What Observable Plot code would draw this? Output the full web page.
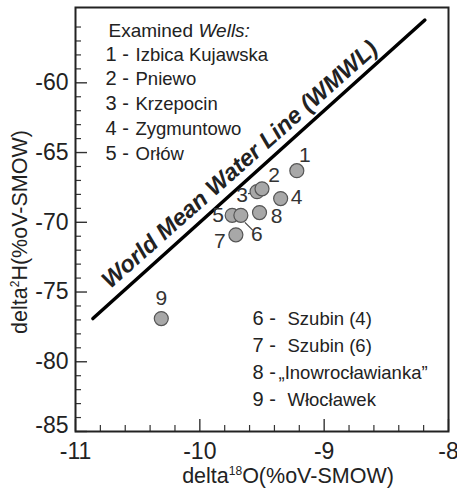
<!DOCTYPE html>
<html><head><meta charset="utf-8">
<script src="https://cdn.jsdelivr.net/npm/d3@7"></script>
<script src="https://cdn.jsdelivr.net/npm/@observablehq/plot@0.6"></script>
<style>body{margin:0;background:#fff;}</style>
</head><body><div id="chart"></div>
<script>
// ---- data ----
const wellIds = [1, 2, 3, 4, 5, 6, 7, 8, 9];
const wellNames = ["Izbica Kujawska", "Pniewo", "Krzepocin", "Zygmuntowo", "Orłów",
                   "Szubin (4)", "Szubin (6)", "„Inowrocławianka”", "Włocławek"];
const delta18O = [-9.22, -9.50, -9.54, -9.35, -9.74, -9.67, -9.71, -9.52, -10.31];
const delta2H  = [-66.3, -67.6, -67.8, -68.3, -69.5, -69.5, -70.9, -69.3, -76.9];
const wmwlO = [-10.86, -8.19];
const wmwlH = [-76.9, -55.5];
const wmwlLabel = "World Mean Water Line (WMWL)";
const xTicks = [-11, -10, -9, -8];
const yTicks = [-85, -80, -75, -70, -65, -60];
const legendHeader = ["Examined", "Wells:"];

// ---- layout ----
const W = 457, H = 490, mL = 75, mR = 9, mT = 7, mB = 59;
const fw = W - mL - mR, fh = H - mT - mB;
const xDom = [-11, -8], yDom = [-85, -54.6];
const kx = fw / (xDom[1] - xDom[0]), ky = fh / (yDom[1] - yDom[0]);
const ink = "#222";
const drawOrder = [0, 2, 1, 3, 4, 5, 6, 7, 8];
const points = drawOrder.map(i => ({id: wellIds[i], x: delta18O[i], y: delta2H[i]}));
const labelOffset = {1: [8, -15], 2: [12, -14], 3: [-15, 4], 4: [16, -1], 5: [-14, 0],
                     6: [16, 19], 7: [-16, 6], 8: [17, 4], 9: [0, -20]};
const leaders = {3: [[-9, 2], [-4, 1.5]], 6: [[4, 7], [12, 15]]};
const wmwlPos = {x: -9.68, y: -65.85, rotate: -41.6};
const fmt = d => String(d);

const xMinor = d3.range(-11, -8.0001, 0.2).map(v => +v.toFixed(1));
const yMinor = d3.range(-85, -54.9, 1);
const isMajorX = v => Math.abs(v - Math.round(v)) < 1e-6;
const isMajorY = v => v % 5 === 0;

const wmwl = wmwlO.map((o, i) => ({x: o, y: wmwlH[i]}));

const marks = [];
// ticks (inward)
marks.push(Plot.tickX(xMinor.filter(v => !isMajorX(v)), {x: d => d, insetTop: fh - 6, stroke: "#333", strokeWidth: 1.2}));
marks.push(Plot.tickX(xTicks, {x: d => d, insetTop: fh - 12, stroke: "#333", strokeWidth: 1.4}));
marks.push(Plot.tickY(yMinor.filter(v => !isMajorY(v)), {y: d => d, insetRight: fw - 6, stroke: "#333", strokeWidth: 1.2}));
marks.push(Plot.tickY(yTicks, {y: d => d, insetRight: fw - 12, stroke: "#333", strokeWidth: 1.4}));
marks.push(Plot.axisX(xTicks, {tickSize: 0, tickPadding: 11, fontSize: 23, fill: ink, label: null, tickFormat: fmt}));
marks.push(Plot.axisY(yTicks.filter(v => v !== -85), {tickSize: 0, tickPadding: 7, fontSize: 23, fill: ink, label: null, tickFormat: fmt}));
marks.push(Plot.axisY([-85], {tickSize: 0, tickPadding: 7, fontSize: 23, fill: ink, label: null, tickFormat: fmt, dy: -6}));
marks.push(Plot.frame({stroke: ink, strokeWidth: 2}));

// WMWL
marks.push(Plot.line(wmwl, {x: "x", y: "y", stroke: "#000", strokeWidth: 3.5}));
marks.push(Plot.text([wmwlLabel], {x: () => wmwlPos.x, y: () => wmwlPos.y, text: d => d, rotate: wmwlPos.rotate,
  fontSize: 23.5, fontWeight: "bold", fontStyle: "italic", fill: ink, textAnchor: "middle", lineAnchor: "middle"}));

// leader lines
const leaderData = Object.entries(leaders).map(([id, [a, b]]) => {
  const p = points.find(d => d.id === +id);
  return {x1: p.x + a[0] / kx, y1: p.y - a[1] / ky, x2: p.x + b[0] / kx, y2: p.y - b[1] / ky};
});
marks.push(Plot.link(leaderData, {x1: "x1", y1: "y1", x2: "x2", y2: "y2", stroke: "#444", strokeWidth: 1.2}));

// points
marks.push(Plot.dot(points, {x: "x", y: "y", r: 7, fill: "#a8a8a8", stroke: "#555", strokeWidth: 1.2}));
// point labels
for (const p of points) {
  const [dx, dy] = labelOffset[p.id];
  marks.push(Plot.text([p], {x: "x", y: "y", text: d => String(d.id), dx, dy, fontSize: 21, fill: "#333",
    textAnchor: "middle", lineAnchor: "middle"}));
}

// legend (upper)
marks.push(Plot.text([legendHeader[0]], {frameAnchor: "top-left", dx: 108 - mL, dy: 36 - mT, text: d => d,
  textAnchor: "start", lineAnchor: "bottom", fontSize: 19, fill: ink}));
marks.push(Plot.text([legendHeader[1]], {frameAnchor: "top-left", dx: 198 - mL, dy: 36 - mT, text: d => d,
  textAnchor: "start", lineAnchor: "bottom", fontSize: 19, fontStyle: "italic", fill: ink}));
wellIds.forEach((id, i) => {
  const upper = i < 5;
  const base = upper ? 60 + i * 24.8 : 324 + (i - 5) * 27;
  const numX = upper ? 105 : 252;
  const nameX = upper ? 135 : (wellNames[i].startsWith("„") ? 278 : 287);
  marks.push(Plot.text([`${id} -`], {frameAnchor: "top-left", dx: numX - mL, dy: base - mT, text: d => d,
    textAnchor: "start", lineAnchor: "bottom", fontSize: 20, fill: ink}));
  marks.push(Plot.text([wellNames[i]], {frameAnchor: "top-left", dx: nameX - mL, dy: base - mT, text: d => d,
    textAnchor: "start", lineAnchor: "bottom", fontSize: 18.5, fill: ink}));
});

// axis titles with superscripts
marks.push(() => {
  const t = d3.create("svg:text").attr("text-anchor", "middle").attr("font-size", 21.5).attr("fill", ink)
    .attr("x", 288).attr("y", 483);
  t.append("tspan").text("delta");
  t.append("tspan").attr("font-size", 12).attr("dy", -8).text("18");
  t.append("tspan").attr("dy", 8).text("O(%oV-SMOW)");
  return t.node();
});
marks.push(() => {
  const t = d3.create("svg:text").attr("text-anchor", "middle").attr("font-size", 21.5).attr("fill", ink)
    .attr("transform", "translate(27,232) rotate(-90)");
  t.append("tspan").text("delta");
  t.append("tspan").attr("font-size", 12).attr("dy", -8).text("2");
  t.append("tspan").attr("dy", 8).text("H(%oV-SMOW)");
  return t.node();
});

const chart = Plot.plot({
  width: W, height: H,
  marginLeft: mL, marginRight: mR, marginTop: mT, marginBottom: mB,
  style: {fontFamily: "'Liberation Sans', Arial, sans-serif", background: "#fff", color: ink},
  x: {domain: xDom, axis: null},
  y: {domain: yDom, axis: null},
  marks
});
document.getElementById("chart").appendChild(chart);
</script>
</body></html>
